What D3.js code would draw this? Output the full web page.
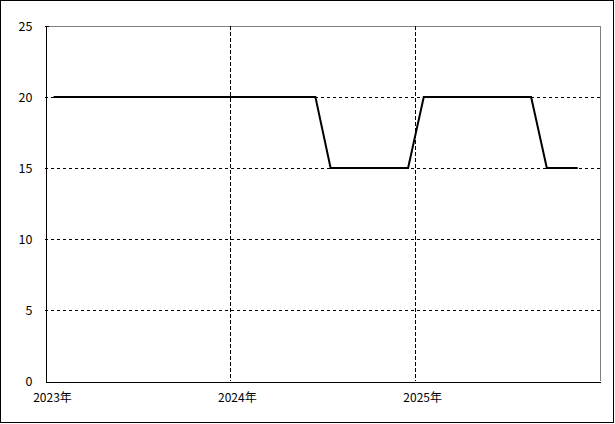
<!DOCTYPE html>
<html>
<head>
<meta charset="utf-8">
<script src="https://cdn.jsdelivr.net/npm/d3@7"></script>
<style>
  body { margin: 0; background: #fff; }
  text { font-family: "Noto Sans CJK JP", "DejaVu Sans", sans-serif; font-size: 12px; fill: #000; }
</style>
</head>
<body>
<script>
"use strict";

// monthly observations (plotted mid-month)
var months = [
  "2023-01","2023-02","2023-03","2023-04","2023-05","2023-06",
  "2023-07","2023-08","2023-09","2023-10","2023-11","2023-12",
  "2024-01","2024-02","2024-03","2024-04","2024-05","2024-06",
  "2024-07","2024-08","2024-09","2024-10","2024-11","2024-12",
  "2025-01","2025-02","2025-03","2025-04","2025-05","2025-06",
  "2025-07","2025-08","2025-09","2025-10","2025-11"
];
var values = [
  20, 20, 20, 20, 20, 20,
  20, 20, 20, 20, 20, 20,
  20, 20, 20, 20, 20, 20,
  15, 15, 15, 15, 15, 15,
  20, 20, 20, 20, 20, 20,
  20, 20, 15, 15, 15
];
var yTicks = [0, 5, 10, 15, 20, 25];
var xTickYears = [2023, 2024, 2025];

var width = 615;
var height = 424;
var margin = {top: 26, right: 15, bottom: 43, left: 45};

var parseMonth = d3.timeParse("%Y-%m");
var data = months.map(function(m, i) {
  var d = parseMonth(m);
  d.setDate(18);
  return {date: d, value: values[i]};
});

var svg = d3.select("body").append("svg")
  .attr("width", width)
  .attr("height", height);

// outer frame
svg.append("rect")
  .attr("x", 0.5).attr("y", 0.5)
  .attr("width", width - 2).attr("height", height - 2)
  .attr("fill", "none").attr("stroke", "#000");

var x = d3.scaleTime()
  .domain([new Date(2023, 0, 1), new Date(2026, 0, 1)])
  .range([margin.left, width - margin.right]);

var y = d3.scaleLinear()
  .domain([0, 25])
  .range([height - margin.bottom, margin.top]);

var g = svg.append("g").attr("shape-rendering", "crispEdges");

// plot border (top/right gray)
g.append("line")
  .attr("x1", x.range()[0] + 4).attr("x2", x.range()[1])
  .attr("y1", y(25) + 0.5).attr("y2", y(25) + 0.5)
  .attr("stroke", "#808080");
g.append("line")
  .attr("x1", x.range()[0]).attr("x2", x.range()[0] + 4)
  .attr("y1", y(25) + 0.5).attr("y2", y(25) + 0.5)
  .attr("stroke", "#000");
g.append("line")
  .attr("x1", x.range()[1] + 0.5).attr("x2", x.range()[1] + 0.5)
  .attr("y1", y(25)).attr("y2", y(0))
  .attr("stroke", "#808080");

// horizontal dashed gridlines
g.selectAll(".hgrid").data(yTicks.filter(function(t) { return t > 0 && t < 25; }))
  .enter().append("line")
  .attr("class", "hgrid")
  .attr("x1", x.range()[0]).attr("x2", x.range()[1])
  .attr("y1", function(d) { return Math.round(y(d)) + 0.5; })
  .attr("y2", function(d) { return Math.round(y(d)) + 0.5; })
  .attr("stroke", "#000")
  .attr("stroke-dasharray", "3,3");

// vertical dashed gridlines
var yearDates = xTickYears.map(function(yr) { return new Date(yr, 0, 1); });
g.selectAll(".vgrid").data(yearDates.slice(1))
  .enter().append("line")
  .attr("class", "vgrid")
  .attr("x1", function(d) { return Math.round(x(d)) + 0.5; })
  .attr("x2", function(d) { return Math.round(x(d)) + 0.5; })
  .attr("y1", y(25)).attr("y2", y(0))
  .attr("stroke", "#000")
  .attr("stroke-dasharray", "4,2");

// y axis
var yAxis = svg.append("g")
  .attr("transform", "translate(" + (margin.left + 0.5) + ",0)")
  .call(d3.axisLeft(y).tickValues(yTicks).tickSize(0).tickPadding(13));
yAxis.select(".domain").attr("stroke", "#000").attr("shape-rendering", "crispEdges");
yAxis.selectAll("text").style("font-size", "12.5px").attr("dy", "0.36em");

// x axis
var xAxis = svg.append("g")
  .attr("transform", "translate(0," + (height - margin.bottom + 0.5) + ")")
  .call(d3.axisBottom(x).tickValues(yearDates).tickSize(0).tickPadding(12)
    .tickFormat(function(d) { return d.getFullYear() + "年"; }));
xAxis.select(".domain").attr("stroke", "#000").attr("shape-rendering", "crispEdges");
xAxis.selectAll("text").attr("dx", 7);

// data line
var line = d3.line()
  .x(function(d) { return x(d.date); })
  .y(function(d) { return y(d.value); });

svg.append("path")
  .datum(data)
  .attr("fill", "none")
  .attr("stroke", "#000")
  .attr("stroke-width", 2)
  .attr("d", line);
</script>
</body>
</html>
